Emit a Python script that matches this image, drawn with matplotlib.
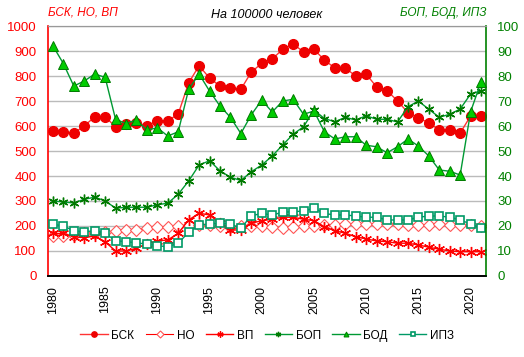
import numpy as np
import matplotlib
matplotlib.use('Agg')
import matplotlib.pyplot as plt

plt.rcParams['font.family'] = ['Liberation Sans', 'DejaVu Sans']
plt.rcParams['font.size'] = 8

years = np.arange(1980, 2022)

# левая ось: БСК, НО, ВП
bsk = [581, 576, 572, 600, 637, 637, 597, 608, 613, 601,
       621, 621, 648, 773, 841, 792, 760, 752, 747, 816,
       851, 868, 907, 928, 897, 907, 864, 832, 832, 800,
       808, 756, 741, 701, 653, 633, 612, 585, 585, 572,
       640, 640]
no = [160, 160, 165, 170, 170, 175, 181, 182, 185, 191,
      195, 197, 200, 205, 203, 203, 200, 196, 200, 200,
      200, 196, 193, 195, 198, 200, 204, 205, 206, 207,
      208, 208, 207, 206, 205, 205, 205, 206, 205, 205,
      204, 200]
vp = [170, 170, 157, 153, 160, 137, 100, 100, 111, 128,
      140, 144, 171, 224, 251, 244, 211, 184, 184, 211,
      221, 227, 235, 235, 227, 221, 197, 181, 171, 157,
      148, 140, 137, 131, 131, 124, 115, 107, 100, 97,
      97, 97]

# правая ось: БОП, БОД, ИПЗ
bop = [30.0, 29.6, 29.2, 30.7, 31.5, 30.1, 27.1, 27.5, 27.5, 27.5,
       28.5, 29.1, 32.7, 38.0, 44.4, 46.1, 42.1, 39.5, 38.2, 41.7,
       44.4, 48.0, 52.4, 56.7, 59.7, 66.4, 63.0, 61.7, 63.5, 62.4,
       64.1, 62.7, 62.7, 61.6, 67.7, 70.0, 66.7, 63.5, 64.7, 66.8,
       72.8, 74.1]
bod = [92.1, 85.0, 76.0, 78.0, 80.8, 79.5, 62.7, 61.0, 62.4, 58.4,
       59.3, 56.0, 57.7, 74.7, 80.8, 74.0, 68.0, 63.5, 57.0, 64.5,
       70.4, 65.6, 70.0, 70.7, 64.7, 66.0, 57.7, 54.8, 55.7, 55.7,
       52.3, 51.7, 49.3, 51.7, 54.8, 52.0, 48.0, 42.4, 41.9, 40.4,
       65.7, 77.7]
ipz = [20.7, 20.0, 18.1, 17.7, 18.1, 17.1, 14.1, 13.7, 13.3, 12.7,
       12.1, 11.7, 13.1, 17.5, 20.4, 20.7, 21.3, 20.7, 19.1, 24.1,
       25.0, 24.4, 25.5, 25.7, 26.0, 27.1, 25.0, 24.4, 24.4, 24.0,
       23.5, 23.5, 22.4, 22.4, 22.4, 23.5, 24.0, 24.0, 23.5, 22.4,
       20.8, 19.1]

red = '#ff0000'
green = '#008000'
star = (6, 2, 0)

fig = plt.figure(figsize=(5.24, 3.57), dpi=100)
ax = fig.add_axes([0.091, 0.227, 0.837, 0.700])
ax2 = ax.twinx()

ax.plot(years, bsk, color='#ff3333', lw=1, marker='o', ms=7,
        mfc='#ee0000', mec='#ee0000', label='БСК')
ax.plot(years, no, color=red, lw=0.8, marker='D', ms=6.5,
        mfc='white', mec='#ff5555', mew=0.8, label='НО')
ax.plot(years, vp, color=red, lw=1, marker=star, ms=8,
        mec=red, mew=1, label='ВП')

ax2.plot(years, bop, color='#009933', lw=1, marker=star, ms=7,
         mec='#007a00', mew=1, label='БОП')
ax2.plot(years, bod, color='#009933', lw=1, marker='^', ms=6.5,
         mfc='#00cc00', mec='#007a00', mew=0.7, label='БОД')
ax2.plot(years, ipz, color='#009966', lw=1, marker='s', ms=6,
         mfc='white', mec='#009966', mew=1.2, label='ИПЗ')

ax.set_xlim(1979.5, 2021.5)
ax.set_ylim(0, 1000)
ax.set_yticks(np.arange(0, 1001, 100))
ax2.set_ylim(0, 100)
ax2.set_yticks(np.arange(0, 101, 10))
ax.set_xticks(np.arange(1980, 2021, 5))
ax.tick_params(axis='x', rotation=90, length=0, labelsize=9, pad=7)
ax.tick_params(axis='y', colors=red, length=0, labelsize=9.5, pad=8)
ax2.tick_params(axis='y', colors=green, length=0, labelsize=9.5, pad=8)
ax.yaxis.grid(True, color='#bbbbbb', lw=1)
ax.set_axisbelow(True)

ax.spines['left'].set_color(red)
ax.spines['left'].set_linewidth(1.2)
ax2.spines['right'].set_color(green)
ax2.spines['right'].set_linewidth(1.2)
ax2.spines['left'].set_visible(False)
ax.spines['right'].set_visible(False)
for a in (ax, ax2):
    a.spines['top'].set_color('#999999')
    a.spines['bottom'].set_color('black')
    a.spines['bottom'].set_linewidth(1.2)

ax.set_title('На 100000 человек', fontsize=9, style='italic', pad=6)
ax.text(0.0, 1.03, 'БСК, НО, ВП', transform=ax.transAxes, color=red,
        style='italic', fontsize=8.5, ha='left', va='bottom')
ax.text(1.0, 1.03, 'БОП, БОД, ИПЗ', transform=ax.transAxes, color=green,
        style='italic', fontsize=8.5, ha='right', va='bottom')

h1, l1 = ax.get_legend_handles_labels()
h2, l2 = ax2.get_legend_handles_labels()
fig.legend(h1 + h2, l1 + l2, loc='center', bbox_to_anchor=(0.51, 0.06),
           ncol=6, frameon=False, fontsize=8.5, handlelength=2.3,
           columnspacing=1.0, handletextpad=0.3, markerscale=0.55)

fig.savefig('out.png', dpi=100)
